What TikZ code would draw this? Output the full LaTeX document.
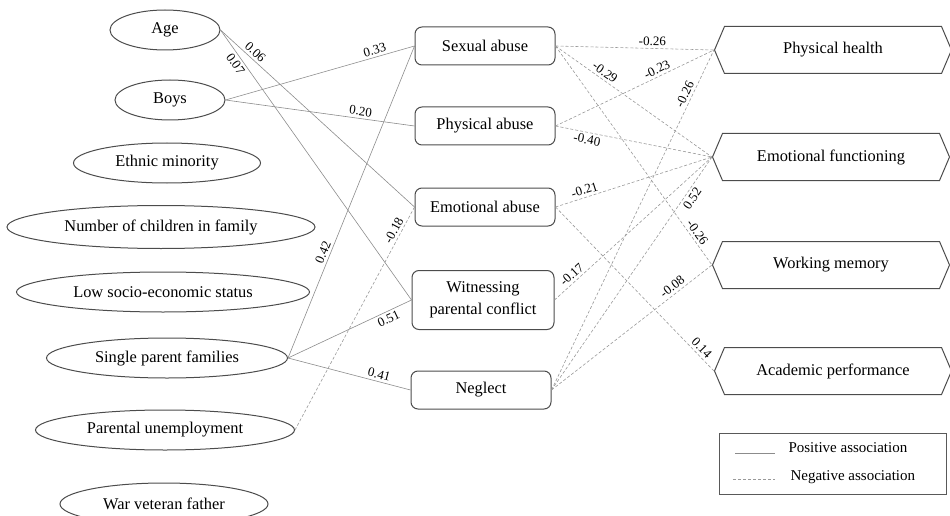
\documentclass[tikz,border=0pt]{standalone}
\usepackage{fontspec}
\setmainfont{Liberation Serif}
\usetikzlibrary{shapes.geometric,shapes.symbols}
\begin{document}
\begin{tikzpicture}[x=1pt,y=-1pt,font=\fontsize{16.4}{19}\selectfont,
        pred/.style={ellipse,draw=black!70,line width=1pt,inner sep=0pt,minimum height=40},
        abuse/.style={rectangle,rounded corners=7pt,draw=black!70,line width=1pt,minimum width=140,minimum height=38,align=center},
        outcome/.style={signal,signal to=west and east,signal pointer angle=134,draw=black!70,line width=1pt,minimum width=237,minimum height=47},
        posline/.style={draw=black!45,line width=.6pt},
        negline/.style={draw=black!40,line width=.6pt,dash pattern=on 3pt off 2pt},
        coef/.style={sloped,font=\fontsize{13}{15}\selectfont,inner sep=2.5pt}]
        \useasboundingbox (0,0) rectangle (950,516);
        % predictors
        \node[pred,minimum width=110] (age) at (165,30) {Age};
        \node[pred,minimum width=110] (boys) at (170,100) {Boys};
        \node[pred,minimum width=187] (ethnic) at (167,163) {Ethnic minority};
        \node[pred,minimum width=308,minimum height=43] (children) at (161,227) {Number of children in family};
        \node[pred,minimum width=293] (lowses) at (163,292) {Low socio-economic status};
        \node[pred,minimum width=241] (single) at (167,358) {Single parent families};
        \node[pred,minimum width=259] (unemp) at (165,430) {Parental unemployment};
        \node[pred,minimum width=208,minimum height=42] (veteran) at (164,504) {War veteran father};
        % maltreatment
        \node[abuse] (sexual) at (485,46) {Sexual abuse};
        \node[abuse] (physical) at (485,126) {Physical abuse};
        \node[abuse] (emotional) at (485,207) {Emotional abuse};
        \node[abuse,minimum width=142,minimum height=59,font=\fontsize{16.4}{22}\selectfont] (witness) at (483,300) {Witnessing\\parental conflict};
        \node[abuse] (neglect) at (481,390) {Neglect};
        % outcomes
        \node[outcome] (health) at (833,50) {Physical health};
        \node[outcome] (emotfunc) at (831,157) {Emotional functioning};
        \node[outcome] (memory) at (831,265) {Working memory};
        \node[outcome] (academic) at (833,371) {Academic performance};
        % positive paths
        \draw[posline] (age.east) -- node[coef,above,pos=.155] {0.06} (emotional.west);
        \draw[posline] (age.east) -- node[coef,below,pos=.11] {0.07} (witness.west);
        \draw[posline] (boys.east) -- node[coef,above,pos=.8] {0.33} (sexual.west);
        \draw[posline] (boys.east) -- node[coef,above,pos=.71] {0.20} (physical.west);
        \draw[posline] (single.east) -- node[coef,above,pos=.33] {0.42} (sexual.west);
        \draw[posline] (single.east) -- node[coef,below,pos=.79] {0.51} (witness.west);
        \draw[posline] (single.east) -- node[coef,above,pos=.73] {0.41} (neglect.west);
        % negative paths
        \draw[negline] (unemp.east) -- node[coef,above,pos=.88] {-0.18} (emotional.west);
        \draw[negline] (sexual.east) -- node[coef,above,pos=.61] {-0.26} (health.west);
        \draw[negline] (sexual.east) -- node[coef,above,pos=.29] {-0.29} (emotfunc.west);
        \draw[negline] (sexual.east) -- node[coef,above,pos=.87] {-0.26} (memory.west);
        \draw[negline] (physical.east) -- node[coef,above,pos=.66] {-0.23} (health.west);
        \draw[negline] (physical.east) -- node[coef,below,pos=.21] {-0.40} (emotfunc.west);
        \draw[negline] (emotional.east) -- node[coef,above,pos=.2] {-0.21} (emotfunc.west);
        \draw[negline] (emotional.east) -- node[coef,above,pos=.89] {0.14} (academic.west);
        \draw[negline] (witness.east) -- node[coef,above,pos=.14] {-0.17} (emotfunc.west);
        \draw[negline] (neglect.east) -- node[coef,above,pos=.86] {-0.26} (health.west);
        \draw[negline] (neglect.east) -- node[coef,below,pos=.84] {0.52} (emotfunc.west);
        \draw[negline] (neglect.east) -- node[coef,above,pos=.78] {-0.08} (memory.west);
        % legend
        \node[draw=black!65,line width=.8pt,minimum width=227,minimum height=61,inner sep=0pt] (legend) at (832.5,463.5) {};
        \coordinate (posA) at (735,453);
        \coordinate (posB) at (775,453);
        \coordinate (negA) at (733,479);
        \coordinate (negB) at (775,479);
        \draw[posline] (posA) -- (posB);
        \draw[negline] (negA) -- (negB);
        \node[anchor=west,font=\fontsize{15}{17}\selectfont] (postext) at (785,448) {Positive association};
        \node[anchor=west,font=\fontsize{15}{17}\selectfont] (negtext) at (787,477) {Negative association};
\end{tikzpicture}
\end{document}
